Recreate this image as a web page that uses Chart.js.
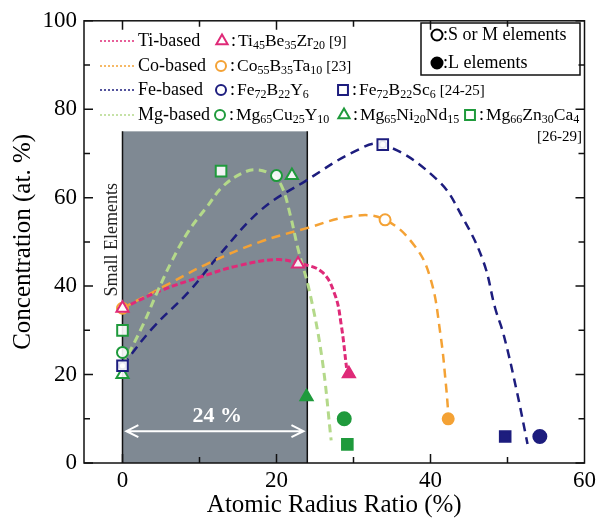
<!DOCTYPE html>
<html>
<head>
<meta charset="utf-8">
<script src="https://cdn.jsdelivr.net/npm/chart.js@4"></script>
<style>
  html, body { margin: 0; padding: 0; background: #fff; }
  canvas { display: block; }
</style>
</head>
<body>
<canvas id="chart" width="600" height="523"></canvas>
<script>
// dashed trend curves as [ratio %, concentration %]
const ti_curve = [[0, 35], [5, 39], [10, 42], [15, 44.6], [20, 46], [22.8, 45.2], [25.9, 43.2], [27.6, 38], [28.4, 31.3], [29.1, 21.5]];
const co_curve = [[0, 35], [6, 40.5], [11.2, 45.2], [17.7, 49.9], [23.7, 53], [30.1, 55.9], [34.1, 55], [37.9, 49.2], [40, 41.7], [41.3, 29], [42, 17.8], [42.3, 11.5]];
const fe_curve = [[0, 22], [3.9, 30.5], [8.6, 38.7], [12.5, 46.9], [18.1, 57.4], [23.7, 63.7], [30.1, 70.4], [33.8, 72], [40.9, 64], [44.3, 55.1], [46.9, 45.4], [48.4, 35], [49.5, 29], [51.2, 16.3], [52.6, 4.3]];
const mg_curve = [[0, 22], [2.6, 31], [4.6, 39], [6.5, 46], [8.6, 52.5], [11, 58], [13, 62.5], [15.5, 65.5], [17.5, 66.3], [19.5, 65], [20.7, 62.5], [21.8, 56], [22.8, 48.4], [24.3, 38.7], [25.9, 23.8], [27.1, 5.1]];

// alloys: open markers = S or M elements, filled = L element
const ti_open = [[0, 35], [22.8, 45]];
const ti_filled = [[29.4, 20.2]];
const co_open = [[0, 35], [34.1, 55]];
const co_filled = [[42.3, 10]];
const fe_y_open = [[0, 22], [33.8, 72]];
const fe_y_filled = [[54.2, 6]];
const fe_sc_open = [[0, 22], [33.8, 72]];
const fe_sc_filled = [[49.7, 6]];
const mg_cu_open = [[0, 25], [20, 65]];
const mg_cu_filled = [[28.8, 10]];
const mg_ni_open = [[0, 20], [22, 65]];
const mg_ni_filled = [[23.9, 15]];
const mg_zn_open = [[0, 30], [12.8, 66]];
const mg_zn_filled = [[29.2, 4.2]];

// axes
const x_ticks = [0, 20, 40, 60];
const x_minor = [0, 10, 20, 30, 40, 50];
const y_ticks = [0, 20, 40, 60, 80, 100];
const y_minor = [10, 30, 50, 70, 90];
const band_x = [0, 24];
const band_top = 75;

const colors = {
    ti: '#df2a78',
    co: '#f4a235',
    fe: '#1d1d7e',
    mg_line: '#b4d98a',
    mg: '#1f9a3c'
};

const legend_rows = [
    { name: 'Ti-based', line: colors.ti, items: [
        { style: 'triangle', color: colors.ti, label: 'Ti_{45}Be_{35}Zr_{20}', ref: '[9]' }] },
    { name: 'Co-based', line: colors.co, items: [
        { style: 'circle', color: colors.co, label: 'Co_{55}B_{35}Ta_{10}', ref: '[23]' }] },
    { name: 'Fe-based', line: colors.fe, items: [
        { style: 'circle', color: colors.fe, label: 'Fe_{72}B_{22}Y_{6}', ref: '' },
        { style: 'rect', color: colors.fe, label: 'Fe_{72}B_{22}Sc_{6}', ref: '[24-25]' }] },
    { name: 'Mg-based', line: colors.mg_line, items: [
        { style: 'circle', color: colors.mg, label: 'Mg_{65}Cu_{25}Y_{10}', ref: '' },
        { style: 'triangle', color: colors.mg, label: 'Mg_{65}Ni_{20}Nd_{15}', ref: '' },
        { style: 'rect', color: colors.mg, label: 'Mg_{66}Zn_{30}Ca_{4}', ref: '' }] }
];

const SERIF = '"Liberation Serif", "DejaVu Serif", serif';

function pts(list) {
    return list.map(p => ({ x: p[0], y: p[1] }));
}

function curve(list, color, width, dash, order) {
    return {
        data: pts(list), showLine: true, borderColor: color, borderWidth: width,
        borderDash: dash, tension: 0.4, pointRadius: 0, fill: false, order: order
    };
}

function marks(list, style, color, filled, radius) {
    return {
        data: pts(list), showLine: false, pointStyle: style, pointRadius: radius,
        borderColor: color, borderWidth: 2,
        backgroundColor: filled ? color : 'rgba(255,255,255,0.9)', order: 0
    };
}

// text with _{sub} parts
function draw_rich(ctx, text, x, y, size) {
    const parts = text.split(/_\{([^}]*)\}/);
    let cx = x;
    parts.forEach((part, i) => {
        const sub = i % 2 == 1;
        ctx.font = (sub ? Math.round(size * 0.66) : size) + 'px ' + SERIF;
        ctx.fillText(part, cx, sub ? y + size * 0.3 : y);
        cx += ctx.measureText(part).width;
    });
    return cx;
}

function draw_marker(ctx, style, color, filled, x, y, r) {
    ctx.save();
    ctx.strokeStyle = color;
    ctx.fillStyle = filled ? color : '#fff';
    ctx.lineWidth = 2;
    Chart.helpers.drawPoint(ctx, { pointStyle: style, radius: r, rotation: 0, borderWidth: 2 }, x, y);
    ctx.restore();
}

const marker_size = { circle: 5.5, triangle: 7, rect: 7.5 };

const decor = {
    id: 'decor',
    beforeDatasetsDraw(chart) {
        const { ctx, scales: { x, y } } = chart;
        const x0 = x.getPixelForValue(band_x[0]);
        const x1 = x.getPixelForValue(band_x[1]);
        const yb = y.getPixelForValue(0);
        const yt = y.getPixelForValue(band_top);
        ctx.save();
        ctx.fillStyle = '#7f8993';
        ctx.fillRect(x0, yt, x1 - x0, yb - yt);
        ctx.strokeStyle = '#111';
        ctx.lineWidth = 1.5;
        ctx.beginPath();
        ctx.moveTo(x0, yt); ctx.lineTo(x0, yb);
        ctx.moveTo(x1, yt); ctx.lineTo(x1, yb);
        ctx.stroke();

        // 24 % arrow
        const ay = y.getPixelForValue(7.2);
        const ax0 = x.getPixelForValue(0.5);
        const ax1 = x.getPixelForValue(23.5);
        ctx.strokeStyle = '#fff';
        ctx.lineWidth = 2;
        ctx.beginPath();
        ctx.moveTo(ax0, ay); ctx.lineTo(ax1, ay);
        ctx.moveTo(ax0 + 12, ay - 6); ctx.lineTo(ax0, ay); ctx.lineTo(ax0 + 12, ay + 6);
        ctx.moveTo(ax1 - 12, ay - 6); ctx.lineTo(ax1, ay); ctx.lineTo(ax1 - 12, ay + 6);
        ctx.stroke();
        ctx.fillStyle = '#fff';
        ctx.font = 'bold 22px ' + SERIF;
        ctx.textAlign = 'center';
        ctx.textBaseline = 'middle';
        ctx.fillText('24 %', x.getPixelForValue(12.3), y.getPixelForValue(10.5));

        // Small Elements
        ctx.translate(x.getPixelForValue(-1.3), y.getPixelForValue(50.5));
        ctx.rotate(-Math.PI / 2);
        ctx.fillStyle = '#222';
        ctx.font = '18px ' + SERIF;
        ctx.fillText('Small Elements', 0, 0);
        ctx.restore();
    },
    afterDatasetsDraw(chart) {
        const { ctx, chartArea: a, scales: { x, y } } = chart;
        ctx.save();
        ctx.strokeStyle = '#111';
        ctx.lineWidth = 1.5;
        ctx.strokeRect(a.left, a.top, a.right - a.left, a.bottom - a.top);
        ctx.beginPath();
        x_minor.forEach(v => {
            const px = x.getPixelForValue(v);
            const len = x_ticks.includes(v) ? 9 : 6;
            ctx.moveTo(px, a.bottom); ctx.lineTo(px, a.bottom - len);
            ctx.moveTo(px, a.top); ctx.lineTo(px, a.top + len);
        });
        y_ticks.concat(y_minor).forEach(v => {
            const py = y.getPixelForValue(v);
            const len = y_ticks.includes(v) ? 9 : 6;
            ctx.moveTo(a.left, py); ctx.lineTo(a.left + len, py);
            ctx.moveTo(a.right, py); ctx.lineTo(a.right - len, py);
        });
        ctx.stroke();

        // legend
        const row_y = [41, 66, 90, 115];
        const item_x = [[222], [221], [221, 343], [220, 344, 470]];
        ctx.textBaseline = 'middle';
        ctx.textAlign = 'left';
        legend_rows.forEach((row, i) => {
            const ry = row_y[i];
            ctx.strokeStyle = row.line;
            ctx.lineWidth = 1.5;
            ctx.setLineDash([2, 2]);
            ctx.beginPath();
            ctx.moveTo(100, ry); ctx.lineTo(136, ry);
            ctx.stroke();
            ctx.setLineDash([]);
            ctx.fillStyle = '#000';
            draw_rich(ctx, row.name, 138, ry, 18);
            row.items.forEach((it, j) => {
                const mx = item_x[i][j];
                draw_marker(ctx, it.style, it.color, false, mx, ry, marker_size[it.style] - 0.5);
                ctx.fillStyle = '#000';
                draw_rich(ctx, ':', mx + 9, ry, 18);
                let end = draw_rich(ctx, it.label, mx + 16, ry, 17.5);
                if (it.ref) draw_rich(ctx, it.ref, end + 4, ry + 1, 15);
            });
        });
        draw_rich(ctx, '[26-29]', 537, 137, 15);

        // element size box
        ctx.strokeStyle = '#111';
        ctx.lineWidth = 1.5;
        ctx.strokeRect(421, 23, 159, 52);
        draw_marker(ctx, 'circle', '#000', false, 437, 35, 5.5);
        draw_marker(ctx, 'circle', '#000', true, 437, 63, 5.5);
        ctx.fillStyle = '#000';
        draw_rich(ctx, ':S or M elements', 443, 35, 18);
        draw_rich(ctx, ':L elements', 443, 63, 18);
        ctx.restore();
    }
};

const datasets = [
    curve(mg_curve, colors.mg_line, 3, [8, 5], 1),
    curve(ti_curve, colors.ti, 3, [6, 3], 2),
    curve(co_curve, colors.co, 2.5, [9, 6], 3),
    curve(fe_curve, colors.fe, 2.5, [9, 6], 4),
    marks(ti_open, 'triangle', colors.ti, false, marker_size.triangle),
    marks(ti_filled, 'triangle', colors.ti, true, marker_size.triangle),
    marks(co_open, 'circle', colors.co, false, marker_size.circle),
    marks(co_filled, 'circle', colors.co, true, marker_size.circle),
    marks(fe_sc_open, 'rect', colors.fe, false, marker_size.rect),
    marks(fe_y_open, 'circle', colors.fe, false, 3.5),
    marks(fe_y_filled, 'circle', colors.fe, true, marker_size.circle + 1),
    marks(fe_sc_filled, 'rect', colors.fe, true, marker_size.rect),
    marks(mg_cu_open, 'circle', colors.mg, false, marker_size.circle),
    marks(mg_cu_filled, 'circle', colors.mg, true, marker_size.circle + 1),
    marks(mg_ni_open, 'triangle', colors.mg, false, marker_size.triangle),
    marks(mg_ni_filled, 'triangle', colors.mg, true, marker_size.triangle),
    marks(mg_zn_open, 'rect', colors.mg, false, marker_size.rect),
    marks(mg_zn_filled, 'rect', colors.mg, true, marker_size.rect)
];

new Chart(document.getElementById('chart').getContext('2d'), {
    type: 'scatter',
    data: { datasets: datasets },
    options: {
        responsive: false,
        animation: false,
        layout: { padding: { left: 0, right: 12, top: 16, bottom: 0 } },
        plugins: { legend: { display: false }, tooltip: { enabled: false } },
        scales: {
            x: {
                type: 'linear', min: -5, max: 60,
                afterBuildTicks: s => { s.ticks = x_ticks.map(v => ({ value: v })); },
                afterFit: s => { s.height = 60; },
                grid: { display: false, drawTicks: false },
                border: { display: false },
                ticks: { color: '#000', padding: 4, maxRotation: 0, font: { family: SERIF, size: 23 } },
                title: { display: true, text: 'Atomic Radius Ratio (%)', color: '#000',
                    padding: { top: 0, bottom: 3 }, font: { family: SERIF, size: 25 } }
            },
            y: {
                type: 'linear', min: 0, max: 100,
                afterBuildTicks: s => { s.ticks = y_ticks.map(v => ({ value: v })); },
                afterFit: s => { s.width = 84; },
                grid: { display: false, drawTicks: false },
                border: { display: false },
                ticks: { color: '#000', padding: 7, font: { family: SERIF, size: 23 } },
                title: { display: true, text: 'Concentration (at. %)', color: '#000',
                    padding: { top: 8, bottom: 0 }, font: { family: SERIF, size: 25 } }
            }
        }
    },
    plugins: [decor]
});
</script>
</body>
</html>
